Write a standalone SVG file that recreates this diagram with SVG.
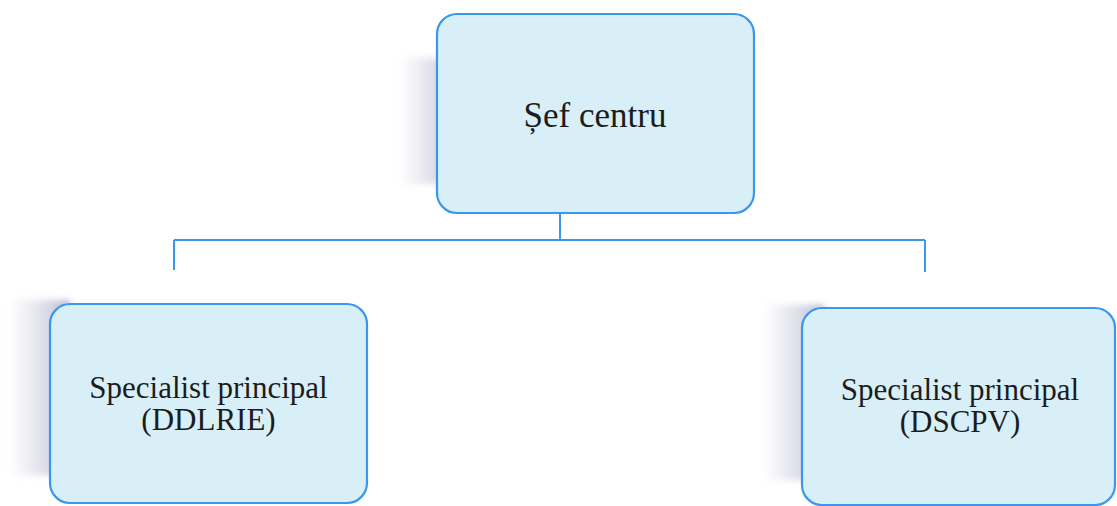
<svg xmlns="http://www.w3.org/2000/svg" width="1117" height="506" viewBox="0 0 1117 506">
<style>
.box{fill:#d8eff8;stroke:#3b97ea;stroke-width:2.2}
.shadow{fill:url(#sg);filter:url(#blur)}
.t{font-family:"Liberation Serif","Times New Roman",serif;fill:#1c1c1c;text-anchor:middle}
.conn{fill:none;stroke:#3b97ea;stroke-width:2}
</style>
<defs>
<linearGradient id="sg" x1="0" y1="0" x2="1" y2="0">
<stop offset="0" stop-color="#c9c9dc" stop-opacity="0"/>
<stop offset="0.6" stop-color="#c4c4da" stop-opacity="0.6"/>
<stop offset="1" stop-color="#b4b4cf" stop-opacity="1"/>
</linearGradient>
<filter id="blur" x="-20%" y="-20%" width="140%" height="140%"><feGaussianBlur stdDeviation="3"/></filter>
</defs>
<rect width="1117" height="506" fill="#fff"/>
<g id="connectors">
<path class="conn" d="M560 213 V240 M174 240 H925 M174 240 V270 M925 240 V272"/>
</g>
<g id="sef">
<rect class="shadow" x="400" y="58" width="60" height="126"/>
<rect class="box" x="437" y="14" width="317" height="199" rx="20"/>
<text class="t" x="595" y="127" font-size="35">Șef centru</text>
</g>
<g id="ddlrie">
<rect class="shadow" x="10" y="300" width="60" height="175"/>
<rect class="box" x="50" y="304" width="317" height="199" rx="20"/>
<text class="t" x="208.5" y="398" font-size="31">Specialist principal</text>
<text class="t" x="208.5" y="430" font-size="31">(DDLRIE)</text>
</g>
<g id="dscpv">
<rect class="shadow" x="764" y="305" width="60" height="175"/>
<rect class="box" x="802" y="308" width="313" height="197" rx="20"/>
<text class="t" x="960" y="400" font-size="31">Specialist principal</text>
<text class="t" x="960" y="432" font-size="31">(DSCPV)</text>
</g>
</svg>
